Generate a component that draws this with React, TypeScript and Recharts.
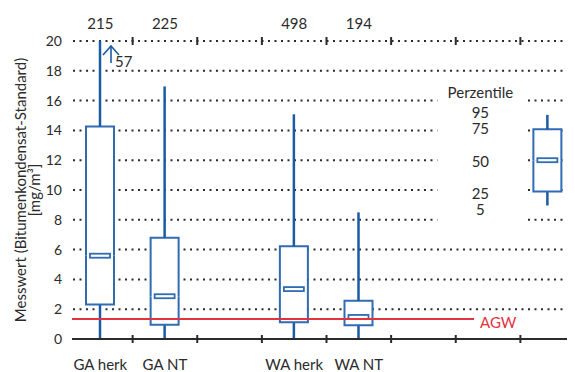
import React from "react";
import { ComposedChart, Bar, XAxis, YAxis, ReferenceLine, CartesianGrid } from "recharts";

// categories (8 equal bands, the last one holds the percentile legend box)
const categories = ["GA herk", "GA NT", "gap1", "WA herk", "WA NT", "gap2", "gap3", "legend"];
const xLabels = ["GA herk", "GA NT", "", "WA herk", "WA NT", "", "", ""];
const counts = ["215", "225", "", "498", "194", "", "", ""];

// percentiles, mg/m³
const p5 = [0, 0, null, 0, 0, null, null, 8.96];
const p25 = [2.31, 0.96, null, 1.12, 0.92, null, null, 9.9];
const p50 = [5.59, 2.87, null, 3.35, 1.48, null, null, 12.0];
const p75 = [14.26, 6.8, null, 6.22, 2.56, null, null, 14.07];
const p95 = [20, 16.95, null, 15.08, 8.5, null, null, 15.04];
const maxOut = [57, null, null, null, null, null, null, null];

const yTicks = [0, 2, 4, 6, 8, 10, 12, 14, 16, 18, 20];
const AGW = 1.35;

const W = 577;
const H = 364;
const TOP = 33;
const BOTTOM = 33;
const LEFT = 60;
const PLOT_H = H - TOP - BOTTOM;
const BAND = (W - LEFT) / categories.length;
const PX_PER_UNIT = PLOT_H / 20;

const WHISKER = "#1b5aa5";
const BOXLINE = "#2f6cb3";
const INK = "#2b2b2b";
const RED = "#e2333f";
const LEG_DX = -5;
const LEG_TEXT_DX = -67;

type Row = {
  name: string;
  legend: boolean;
  base: number | null;
  lw: number | null;
  bl: number | null;
  bu: number | null;
  uw: number | null;
  max: number | null;
};

const data: Row[] = categories.map((name, i) => {
  const has = p50[i] != null;
  return {
    name,
    legend: name === "legend",
    base: has ? (p5[i] as number) : null,
    lw: has ? (p25[i] as number) - (p5[i] as number) : null,
    bl: has ? (p50[i] as number) - (p25[i] as number) : null,
    bu: has ? (p75[i] as number) - (p50[i] as number) : null,
    uw: has ? (p95[i] as number) - (p75[i] as number) : null,
    max: maxOut[i],
  };
});

const legendText = (x: number, y: number, t: string) => (
  <text x={x} y={y} textAnchor="middle" fontSize={15} fill={INK}>
    {t}
  </text>
);

// invisible base of the stack; for the legend it blanks the grid behind the labels
function Base(props: any) {
  const { x, y, width, height, payload } = props;
  if (!payload || !payload.legend) return null;
  const cx = x + width / 2 + LEG_DX;
  const zeroY = y + height;
  const top = zeroY - 17 * PX_PER_UNIT;
  const bottom = zeroY - 7 * PX_PER_UNIT;
  return <rect x={cx - 110} y={top} width={88} height={bottom - top} fill="#fff" />;
}

function LowerWhisker(props: any) {
  const { x, y, width, height, payload } = props;
  if (!payload || payload.bl == null) return null;
  const dx = payload.legend ? LEG_DX : 0;
  const cx = x + width / 2 + dx;
  return (
    <g>
      <line x1={cx} x2={cx} y1={y} y2={y + height} stroke={WHISKER} strokeWidth={2.5} />
      {payload.legend && legendText(cx + LEG_TEXT_DX, y + height + 9.5, "5")}
      {payload.legend && legendText(cx + LEG_TEXT_DX, y + 7.5, "25")}
    </g>
  );
}

function BoxLower(props: any) {
  const { x, y, width, height, payload } = props;
  if (!payload || payload.bl == null) return null;
  const bx = x + (payload.legend ? LEG_DX : 0);
  return (
    <g>
      <rect x={bx} y={y} width={width} height={height} fill="#fff" />
      <path
        d={`M${bx},${y} L${bx},${y + height} L${bx + width},${y + height} L${bx + width},${y}`}
        fill="none"
        stroke={BOXLINE}
        strokeWidth={2}
      />
    </g>
  );
}

function BoxUpper(props: any) {
  const { x, y, width, height, payload } = props;
  if (!payload || payload.bu == null) return null;
  const bx = x + (payload.legend ? LEG_DX : 0);
  const cx = bx + width / 2;
  const my = y + height;
  return (
    <g>
      <rect x={bx} y={y} width={width} height={height} fill="#fff" />
      <path
        d={`M${bx},${my} L${bx},${y} L${bx + width},${y} L${bx + width},${my}`}
        fill="none"
        stroke={BOXLINE}
        strokeWidth={2}
      />
      <rect x={cx - 10} y={my - 2} width={20} height={4} fill="#fff" stroke={BOXLINE} strokeWidth={1.8} />
      {payload.legend && legendText(cx + LEG_TEXT_DX, my + 6.5, "50")}
      {payload.legend && legendText(cx + LEG_TEXT_DX, y + 4.5, "75")}
    </g>
  );
}

function UpperWhisker(props: any) {
  const { x, y, width, height, payload } = props;
  if (!payload || payload.uw == null) return null;
  const dx = payload.legend ? LEG_DX : 0;
  const cx = x + width / 2 + dx;
  const ax = cx + 11;
  return (
    <g>
      <line x1={cx} x2={cx} y1={y} y2={y + height} stroke={WHISKER} strokeWidth={2.5} />
      {payload.max != null && (
        <g stroke={WHISKER} strokeWidth={1.6} fill="none">
          <line x1={ax} x2={ax} y1={y + 5} y2={y + 22} />
          <polyline points={`${ax - 8},${y + 14} ${ax},${y + 5} ${ax + 8},${y + 14}`} />
        </g>
      )}
      {payload.max != null && (
        <text x={ax + 4} y={y + 26} fontSize={15} fill={INK}>
          {payload.max}
        </text>
      )}
      {payload.legend && legendText(cx + LEG_TEXT_DX, y + 3.5, "95")}
      {payload.legend && legendText(cx + LEG_TEXT_DX, y - 16.5, "Perzentile")}
    </g>
  );
}

function XTick(props: any) {
  const { x, y, index } = props;
  const label = xLabels[index];
  const count = counts[index];
  const bx = x + BAND / 2;
  const top = y - PLOT_H;
  return (
    <g>
      {label && (
        <text x={x} y={y + 31} textAnchor="middle" fontSize={15} fill={INK}>
          {label}
        </text>
      )}
      {count && (
        <text x={x} y={top - 12} textAnchor="middle" fontSize={15} fill={INK}>
          {count}
        </text>
      )}
      {index < categories.length - 1 && (
        <g stroke={INK} strokeWidth={2}>
          <line x1={bx} x2={bx} y1={y - 4} y2={y + 4} />
          <line x1={bx} x2={bx} y1={top - 4} y2={top + 4} />
        </g>
      )}
    </g>
  );
}

function YLabel(props: any) {
  const vb = props.viewBox || { x: 0, y: TOP, width: LEFT, height: PLOT_H };
  const cy = vb.y + vb.height / 2;
  const x1 = vb.x + 12;
  const x2 = vb.x + 26;
  return (
    <g fill={INK} fontSize={15}>
      <text x={x1} y={cy} textAnchor="middle" dominantBaseline="central" transform={`rotate(-90, ${x1}, ${cy})`}>
        Messwert (Bitumenkondensat-Standard)
      </text>
      <text x={x2} y={cy} textAnchor="middle" dominantBaseline="central" transform={`rotate(-90, ${x2}, ${cy})`}>
        [mg/m³]
      </text>
    </g>
  );
}

const axisShape = (props: any) => {
  const { x1, x2, y1 } = props;
  return <line x1={x1 + 4} x2={x2} y1={y1} y2={y1} stroke={INK} strokeWidth={2} />;
};

const agwShape = (props: any) => {
  const { x1, y1 } = props;
  return (
    <g>
      <line x1={x1 + 4} x2={x1 + 406} y1={y1} y2={y1} stroke={RED} strokeWidth={2} />
      <text x={x1 + 412} y={y1 + 9} fontSize={15} fill={RED}>
        AGW
      </text>
    </g>
  );
};

export default function App() {
  return (
    <div style={{ width: 567, height: H, overflow: "hidden", fontFamily: "Lato, 'Noto Sans', sans-serif" }}>
      <ComposedChart width={W} height={H} data={data} margin={{ top: TOP, right: 0, bottom: 0, left: 0 }}>
        <CartesianGrid
          vertical={false}
          x={LEFT + 5}
          width={W - LEFT - 5}
          stroke={INK}
          strokeWidth={2}
          strokeDasharray="2 4.5"
        />
        <XAxis
          dataKey="name"
          height={BOTTOM}
          axisLine={false}
          tickLine={false}
          tickSize={0}
          tickMargin={0}
          interval={0}
          tick={<XTick />}
        />
        <YAxis
          width={LEFT}
          domain={[0, 20]}
          ticks={yTicks}
          axisLine={false}
          tickLine={false}
          tickSize={0}
          tickMargin={6}
          tick={{ fontSize: 14, fill: INK }}
          label={{ content: <YLabel /> }}
        />
        <Bar dataKey="base" stackId="box" barSize={28} shape={<Base />} isAnimationActive={false} />
        <Bar dataKey="lw" stackId="box" barSize={28} shape={<LowerWhisker />} isAnimationActive={false} />
        <Bar dataKey="bl" stackId="box" barSize={28} shape={<BoxLower />} isAnimationActive={false} />
        <Bar dataKey="bu" stackId="box" barSize={28} shape={<BoxUpper />} isAnimationActive={false} />
        <Bar dataKey="uw" stackId="box" barSize={28} shape={<UpperWhisker />} isAnimationActive={false} />
        <ReferenceLine y={0} shape={axisShape} />
        <ReferenceLine y={AGW} shape={agwShape} />
      </ComposedChart>
    </div>
  );
}
